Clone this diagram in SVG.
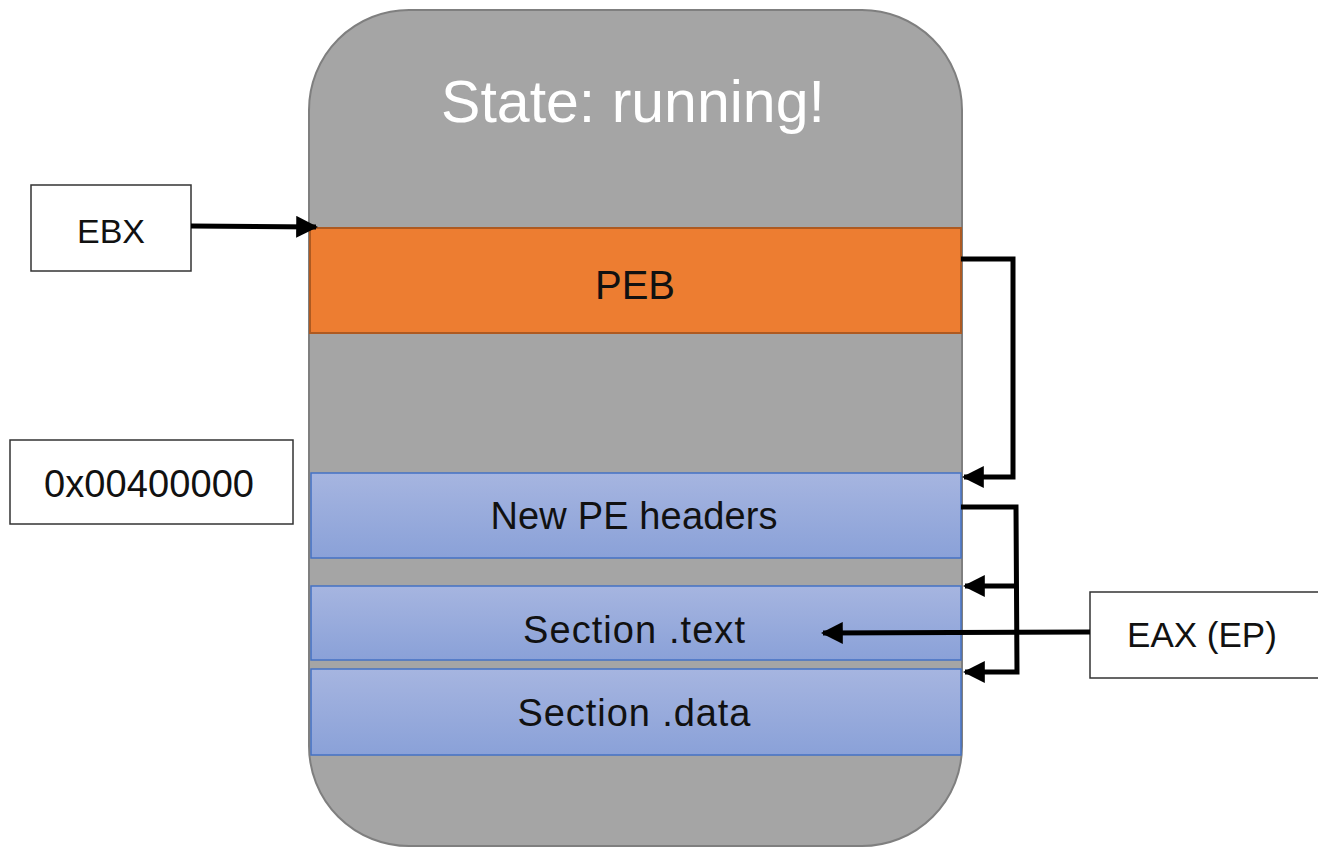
<svg xmlns="http://www.w3.org/2000/svg" width="1318" height="848" viewBox="0 0 1318 848">
<defs>
<linearGradient id="blueGrad" x1="0" y1="0" x2="0" y2="1">
<stop offset="0" stop-color="#A6B5E0"/>
<stop offset="1" stop-color="#8AA1D8"/>
</linearGradient>
<marker id="arrow" viewBox="0 0 10 10" refX="9" refY="5" markerWidth="4.4" markerHeight="4.4" markerUnits="strokeWidth" orient="auto">
<path d="M0,0 L10,5 L0,10 Z" fill="#000"/>
</marker>
</defs>
<style>
.lbl{font-family:"Liberation Sans","Open Sans",Arial,sans-serif;fill:#111;text-anchor:middle;dominant-baseline:central;font-size:38px}
.box{fill:#fff;stroke:#333;stroke-width:1.5}
.sec{fill:url(#blueGrad);stroke:#4472C4;stroke-width:1.5}
.conn{fill:none;stroke:#000;stroke-width:5;stroke-linejoin:miter}
</style>
<rect width="1318" height="848" fill="#fff"/>
<g id="process">
<rect x="309" y="10" width="653" height="836" rx="100" ry="100" fill="#A5A5A5" stroke="#7F7F7F" stroke-width="2"/>
<text x="633" y="102" class="lbl" style="fill:#fff;font-size:59px">State: running!</text>
</g>
<g id="peb">
<rect x="310" y="228" width="651" height="105" fill="#ED7D31" stroke="#AE5A21" stroke-width="2"/>
<text x="635" y="285" class="lbl" style="font-size:40px">PEB</text>
</g>
<g id="pe-headers">
<rect x="311" y="473" width="650" height="85" class="sec"/>
<text x="634" y="516" class="lbl" textLength="287">New PE headers</text>
</g>
<g id="section-text">
<rect x="311" y="586" width="650" height="74" class="sec"/>
<text x="634" y="630" class="lbl" textLength="222">Section .text</text>
</g>
<g id="section-data">
<rect x="311" y="669" width="650" height="86" class="sec"/>
<text x="634" y="713" class="lbl" textLength="233">Section .data</text>
</g>
<g id="ebx">
<rect x="31" y="185" width="160" height="86" class="box"/>
<text x="111" y="231" class="lbl" style="font-size:34px">EBX</text>
</g>
<g id="imagebase">
<rect x="10" y="440" width="283" height="84" class="box"/>
<text x="149" y="484" class="lbl" textLength="210">0x00400000</text>
</g>
<g id="eax">
<rect x="1090" y="592" width="230" height="86" class="box"/>
<text x="1202" y="634" class="lbl" style="font-size:35px">EAX (EP)</text>
</g>
<g id="connectors">
<path class="conn" d="M191,226 L316,227" marker-end="url(#arrow)"/>
<path class="conn" d="M961,259 L1013,259 L1013,477 L964,477" marker-end="url(#arrow)"/>
<path class="conn" d="M961,507 L1016,507 L1017,672 L965,672" marker-end="url(#arrow)"/>
<path class="conn" d="M1016,586 L965,586" marker-end="url(#arrow)"/>
<path class="conn" d="M1090,632 L823,633" marker-end="url(#arrow)"/>
</g>
</svg>
